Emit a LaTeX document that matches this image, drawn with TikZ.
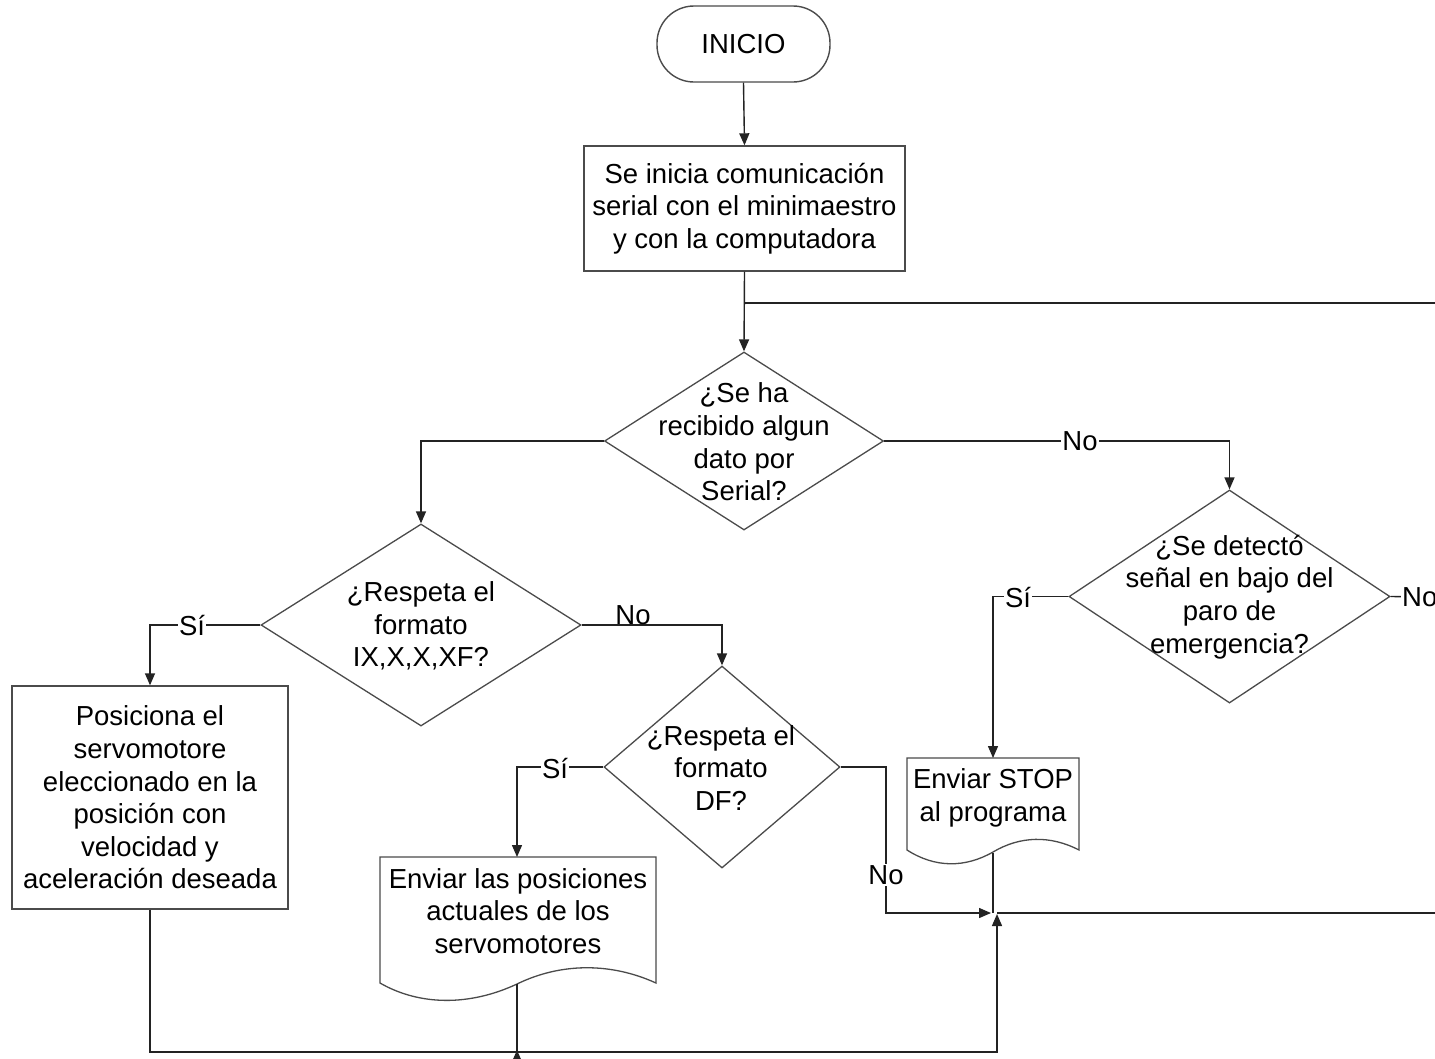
\documentclass[tikz,border=0pt]{standalone}
\usepackage{fontspec}
\setmainfont{Liberation Sans}
\usetikzlibrary{shapes.geometric,arrows.meta}
\definecolor{lin}{RGB}{35,35,35}
\definecolor{shp}{RGB}{75,75,75}
\begin{document}
\begin{tikzpicture}[x=1pt,y=-1pt,
  base/.style={font=\fontsize{27.5}{32.6}\selectfont, text=black},
  txt/.style={base, align=center, inner sep=0pt},
  boxst/.style={draw=shp, line width=1.4pt, fill=white, inner sep=0pt, base, align=center},
  dia/.style={diamond, draw=shp, line width=1.3pt, inner sep=0pt},
  arr/.style={draw=lin, line width=1.4pt, -{Triangle[length=12pt,width=10pt]}},
  ln/.style={draw=lin, line width=1.4pt},
  lbl/.style={base, fill=white, inner sep=1pt},
  docst/.style={draw=shp, line width=1.3pt, fill=white}]
\clip (0,0) rectangle (1435,1058);
\fill[white] (0,0) rectangle (1435,1058);

% nodes
\node[boxst, rounded corners=37pt, minimum width=173pt, minimum height=76pt] (ini) at (743.5,44) {INICIO};
\node[boxst, minimum width=321pt, minimum height=125pt] (b1) at (744.5,208.5) {Se inicia comunicación\\serial con el minimaestro\\y con la computadora};
\node[dia, minimum width=279pt, minimum height=178pt] (d1) at (744,441) {};
\node[dia, minimum width=320pt, minimum height=202pt] (d2) at (421,625) {};
\node[dia, minimum width=236pt, minimum height=202pt] (d4) at (722,767) {};
\node[dia, minimum width=321pt, minimum height=213pt] (d3) at (1229.5,596.5) {};
\node[boxst, minimum width=276pt, minimum height=223pt] (b3) at (150,797.5) {Posiciona el\\servomotore\\eleccionado en la\\posición con\\velocidad y\\aceleración deseada};

% documents
\coordinate (doc1t) at (517,857);
\coordinate (doc1b) at (517,984);
\draw[docst] (380,983) -- (380,857) -- (656,857) -- (656,983)
  .. controls (610,962) and (560,963) .. (517,984)
  .. controls (470,1006) and (420,1006) .. (380,983) -- cycle;
\node[txt] (doc1) at (518,911) {Enviar las posiciones\\actuales de los\\servomotores};

\coordinate (doc2t) at (993,758);
\coordinate (doc2b) at (993,853);
\draw[docst] (907,850) -- (907,758) -- (1079,758) -- (1079,850)
  .. controls (1050,835) and (1020,836) .. (993,852)
  .. controls (965,868) and (935,868) .. (907,850) -- cycle;
\node[txt] (doc2) at (993,798) {Enviar STOP\\al programa};

% diamond texts
\node[txt] (t1) at (744,442) {¿Se ha\\recibido algun\\dato por\\Serial?};
\node[txt] (t2) at (421,626) {¿Respeta el\\formato\\IX,X,X,XF?};
\node[txt] (t4) at (721,768) {¿Respeta el\\formato\\DF?};
\node[txt] (t3) at (1229.5,597) {¿Se detectó\\señal en bajo del\\paro de\\emergencia?};

% coordinates
\coordinate (re1) at (1440,303);
\coordinate (re2) at (1440,913);
\coordinate (re3) at (1440,597);
\coordinate (nobend) at (886,913);
\coordinate (jn) at (991,913);
\coordinate (jr) at (997,913);
\coordinate (jup) at (997,914);
\coordinate (jb) at (997,1052);
\coordinate (hid) at (517,1075);
\coordinate (tip) at (517,1050);

% connectors
\draw[arr] (ini.south) -- (b1.north);
\draw[arr] (b1.south) -- (d1.north);
\draw[ln] (re1) -- (re1 -| b1.south);
\draw[arr] (d1.west) -| (d2.north);
\draw[arr] (d1.east) -| (d3.north);
\draw[arr] (d2.west) -| (b3.north);
\draw[arr] (d2.east) -| (d4.north);
\draw[arr] (d4.west) -| (doc1t);
\draw[arr] (d4.east) -| (nobend) -- (jn);
\draw[arr] (d3.west) -| (doc2t);
\draw[ln] (d3.east) -- (re3);
\draw[ln] (doc2b) -- (doc2b |- jn);
\draw[ln] (jr) -- (re2);
\draw[arr] (b3.south) |- (jb) -- (jup);
\draw[ln] (doc1b) -- (doc1b |- jb);
\draw[arr] (hid) -- (tip);

% labels
\node[lbl] at (1080,441) {No};
\node[lbl] at (192,625) {Sí};
\node[base, inner sep=0pt, anchor=base] at (633,624) {No};
\node[lbl] at (555,768) {Sí};
\node[lbl] at (886,875) {No};
\node[lbl] at (1018,597) {Sí};
\node[lbl, anchor=west] at (1401,597) {No};
\end{tikzpicture}
\end{document}
